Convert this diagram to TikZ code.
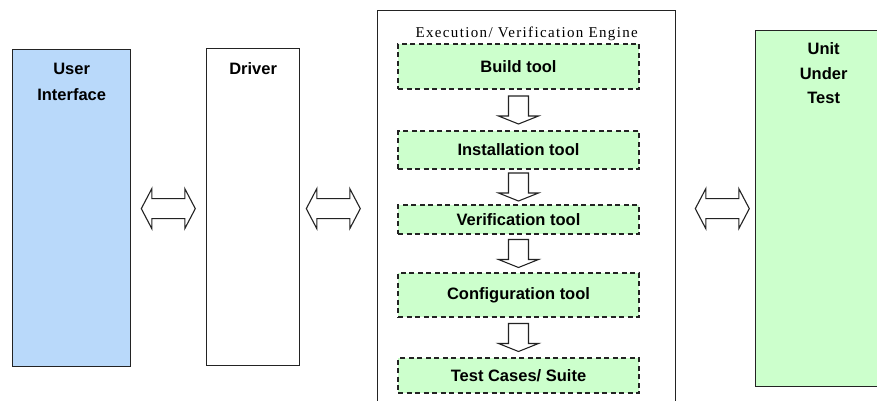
\documentclass[tikz,border=0pt]{standalone}
\usepackage{fontspec}
\setmainfont{Liberation Sans}
\newfontfamily\titlefont[LetterSpace=9]{Liberation Serif}
\usetikzlibrary{calc}
\definecolor{uiblue}{RGB}{185,217,250}
\definecolor{lgreen}{RGB}{204,255,204}
\definecolor{edge}{RGB}{35,35,35}
\newcommand\dnarrow[2]{\draw[blk] ($(#1.south)!0.5!(#2.north)+(-10,-14)$) -- ++(20,0) -- ++(0,20) -- ++(10,0) -- ++(-20,8) -- ++(-20,-8) -- ++(10,0) -- cycle;}
\newcommand\dblarrow[1]{\draw[blk] (#1) -- ++(10.5,-20) -- ++(0,10) -- ++(33,0) -- ++(0,-10) -- ++(10.5,20) -- ++(-10.5,20) -- ++(0,-10) -- ++(-33,0) -- ++(0,10) -- cycle;}
\begin{document}
\begin{tikzpicture}[x=1pt,y=-1pt,
  bigbox/.style={draw=edge,line width=1.3pt,inner sep=0,anchor=north west},
  toolbox/.style={draw=edge,fill=lgreen,line width=1.3pt,dash pattern=on 5pt off 3.5pt,inner sep=0,minimum width=241,font=\bfseries\fontsize{16.5}{19}\selectfont},
  lbl/.style={font=\bfseries\fontsize{16.5}{25.5}\selectfont,align=center,anchor=base,inner sep=0},
  blk/.style={draw=edge,line width=1.1pt,fill=white,line join=miter}]
\useasboundingbox (0,0) rectangle (877,401);
\clip (0,0) rectangle (877,401);
\fill[white] (0,0) rectangle (877,401);
% main boxes
\node[bigbox,fill=uiblue,minimum width=118,minimum height=317] (ui) at (12,49) {};
\node[bigbox,fill=white,minimum width=93,minimum height=317] (drv) at (206,48) {};
\node[bigbox,fill=white,minimum width=298,minimum height=400] (eng) at (377,10) {};
\node[bigbox,fill=lgreen,minimum width=136,minimum height=356] (uut) at (755,30) {};
% labels (base = baseline of the last line)
\node[lbl] (uil) at ($(ui.north)+(0,51)$) {User\\Interface};
\node[lbl] (drvl) at ($(drv.north)+(0,27)$) {Driver};
\node[lbl,font=\bfseries\fontsize{16.5}{24}\selectfont] (uutl) at ($(uut.north)+(0,73)$) {Unit\\Under\\Test};
\node[font=\titlefont\fontsize{15}{18}\selectfont,anchor=base,inner sep=0] (title) at ($(eng.north)+(0,28)$) {Execution/ Verification Engine};
% tool boxes
\node[toolbox,minimum height=45] (build) at (518.5,66.5) {Build tool};
\node[toolbox,minimum height=38] (inst) at (518.5,150) {Installation tool};
\node[toolbox,minimum height=29] (verif) at (518.5,219.5) {Verification tool};
\node[toolbox,minimum height=44] (conf) at (518.5,295) {Configuration tool};
\node[toolbox,minimum height=35] (tests) at (518.5,375.5) {Test Cases/ Suite};
% down arrows
\dnarrow{build}{inst}
\dnarrow{inst}{verif}
\dnarrow{verif}{conf}
\dnarrow{conf}{tests}
% double arrows
\coordinate (a1) at ($(ui.east)+(10,0.5)$);
\coordinate (a2) at ($(drv.east)+(6,1.5)$);
\coordinate (a3) at ($(eng.east |- ui.east)+(19,0.5)$);
\dblarrow{a1}
\dblarrow{a2}
\dblarrow{a3}
\end{tikzpicture}
\end{document}
